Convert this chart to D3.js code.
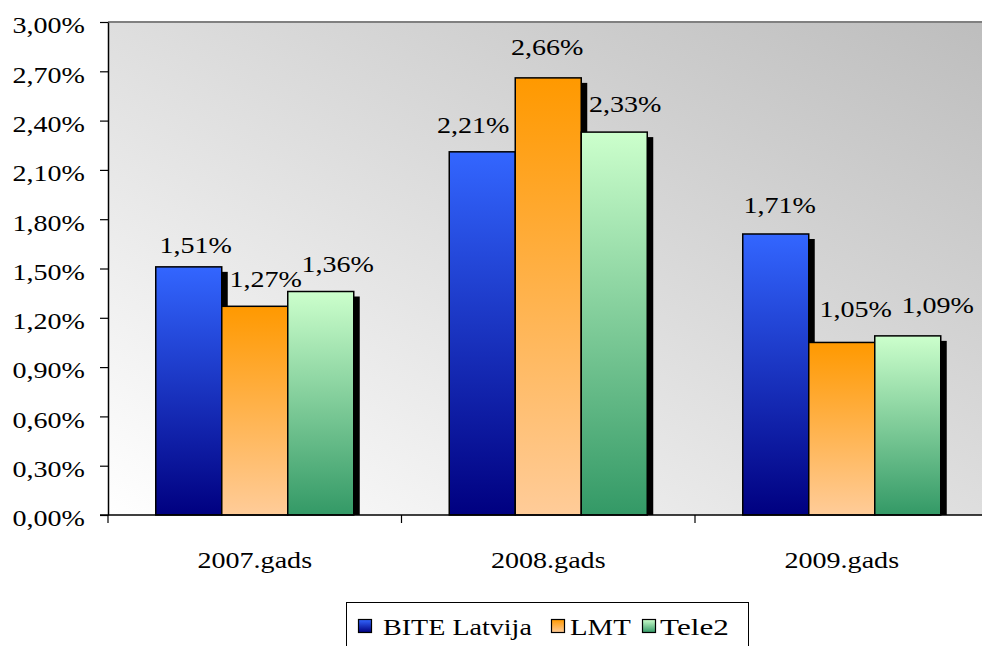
<!DOCTYPE html>
<html><head><meta charset="utf-8">
<script src="https://cdn.jsdelivr.net/npm/d3@7"></script>
<style>body{margin:0;background:#fff}svg{display:block}</style>
</head><body><svg id="c" width="982" height="646"></svg>
<script>
const categories = ["2007.gads", "2008.gads", "2009.gads"];
const seriesNames = ["BITE Latvija", "LMT", "Tele2"];
const bite = [1.51, 2.21, 1.71];
const lmt = [1.27, 2.66, 1.05];
const tele2 = [1.36, 2.33, 1.09];
const yTicks = [0, 0.3, 0.6, 0.9, 1.2, 1.5, 1.8, 2.1, 2.4, 2.7, 3.0];
// label nudges (dx, dy) per series per category
const labelDx = [[7, -9, 4], [11, -1, 14], [17, 11, 30]];
const labelDy = [[-14, -19, -21], [-19, -23, -25], [-19.5, -20, -23]];

const series = [bite, lmt, tele2];
const grads = [["#3366ff", "#000080"], ["#ff9900", "#ffcc99"], ["#ccffcc", "#339966"]];
const SX = 1.17;

const svg = d3.select("#c");
const L = 108, R = 988.5, T = 22, B = 515;
const fmt = v => v.toFixed(2).replace(".", ",") + "%";
const txt = sel => sel.style("font-family", '"Liberation Serif"').style("font-size", "24px").style("fill", "#000");
// place a text at (x, y) stretched horizontally
const put = (sel, x, y, sx = SX) => sel.attr("transform", `translate(${x},${y}) scale(${sx},1)`);

const defs = svg.append("defs");
const bg = defs.append("linearGradient").attr("id", "bg").attr("x1", 0).attr("y1", 1).attr("x2", 1).attr("y2", 0);
bg.append("stop").attr("offset", 0).attr("stop-color", "#ffffff");
bg.append("stop").attr("offset", 1).attr("stop-color", "#bdbdbd");
grads.forEach((g, i) => {
  const lg = defs.append("linearGradient").attr("id", "g" + i).attr("x1", 0).attr("y1", 0).attr("x2", 0).attr("y2", 1);
  lg.append("stop").attr("offset", 0).attr("stop-color", g[0]);
  lg.append("stop").attr("offset", 1).attr("stop-color", g[1]);
});

const x0 = d3.scaleBand().domain(categories).range([L, R]);
const barW = 66;
const x1 = d3.scaleBand().domain(seriesNames).range([(x0.bandwidth() - 3 * barW) / 2, (x0.bandwidth() + 3 * barW) / 2]);
const y = d3.scaleLinear().domain([0, 3]).range([B, T]);

svg.append("rect").attr("x", L).attr("y", T).attr("width", R - L).attr("height", B - T).attr("fill", "url(#bg)");
svg.append("line").attr("x1", L).attr("x2", R).attr("y1", T).attr("y2", T).attr("stroke", "#808080").attr("stroke-width", 2);

categories.forEach((c, ci) => {
  const g = svg.append("g").attr("transform", `translate(${x0(c)},0)`);
  series.forEach((s, si) => {
    const v = s[ci], bx = x1(seriesNames[si]);
    g.append("rect").attr("x", bx + 6).attr("y", y(v) + 5).attr("width", barW).attr("height", B - y(v) - 5).attr("fill", "#000");
  });
  series.forEach((s, si) => {
    const v = s[ci], bx = x1(seriesNames[si]);
    g.append("rect").attr("x", bx).attr("y", y(v)).attr("width", barW).attr("height", B - y(v))
      .attr("fill", `url(#g${si})`).attr("stroke", "#000").attr("stroke-width", 1.5);
  });
  series.forEach((s, si) => {
    const v = s[ci], bx = x1(seriesNames[si]);
    g.append("text").attr("text-anchor", "middle").call(txt).text(fmt(v))
      .call(put, bx + barW / 2 + labelDx[si][ci], y(v) + labelDy[si][ci]);
  });
});

// y axis
const yAxis = svg.append("g").attr("transform", `translate(${L},0)`)
  .call(d3.axisLeft(y).tickValues(yTicks).tickSize(8).tickPadding(15).tickFormat(fmt).tickSizeOuter(0));
yAxis.attr("font-family", null).attr("font-size", null);
yAxis.select(".domain").attr("stroke", "#000").attr("stroke-width", 1.5);
yAxis.selectAll(".tick line").attr("stroke", "#000").attr("stroke-width", 1.2);
yAxis.selectAll("text").attr("x", null).attr("dy", "0.45em").call(txt).call(put, -23, 0);

// x axis
svg.append("line").attr("x1", 100).attr("x2", R).attr("y1", B).attr("y2", B).attr("stroke", "#000").attr("stroke-width", 1.5);
svg.append("g").selectAll("line").data(categories).join("line")
  .attr("x1", d => x0(d)).attr("x2", d => x0(d)).attr("y1", B).attr("y2", B + 8).attr("stroke", "#000").attr("stroke-width", 1.2);
svg.append("g").selectAll("text").data(categories).join("text")
  .attr("text-anchor", "middle").call(txt).text(d => d)
  .each(function (d) { put(d3.select(this), x0(d) + x0.bandwidth() / 2, 568); });

// legend
const lg = svg.append("g");
lg.append("rect").attr("x", 346.5).attr("y", 602.5).attr("width", 402).attr("height", 50).attr("fill", "#fff").attr("stroke", "#000").attr("stroke-width", 1);
const legX = [358, 551, 642];
const legTextX = [383, 570, 660];
const legSX = [1.17, 1.2, 1.3];
seriesNames.forEach((n, i) => {
  lg.append("rect").attr("x", legX[i] + 0.5).attr("y", 619.5).attr("width", 13).attr("height", 13)
    .attr("fill", `url(#g${i})`).attr("stroke", "#000").attr("stroke-width", 1.2);
  lg.append("text").call(txt).text(n).call(put, legTextX[i], 635, legSX[i]);
});
</script></body></html>
